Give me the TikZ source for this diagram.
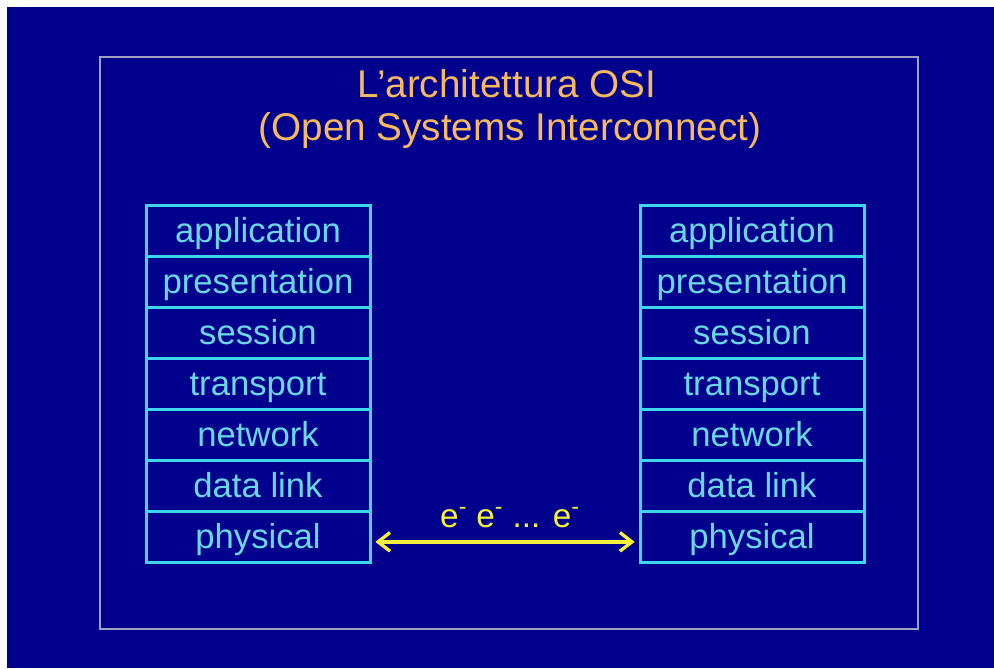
\documentclass[tikz,border=0pt]{standalone}
\usepackage{fontspec}
\setmainfont{Liberation Sans}
\usetikzlibrary{arrows.meta}

\definecolor{slidebg}{RGB}{0,0,140}
\definecolor{framecol}{RGB}{160,160,195}
\definecolor{laycol}{RGB}{60,215,235}
\definecolor{laytxt}{RGB}{105,215,230}
\definecolor{titlecol}{RGB}{245,185,95}
\definecolor{wirecol}{RGB}{245,240,60}

\begin{document}
\begin{tikzpicture}[x=0.75pt,y=-0.75pt,line width=2.25pt]
\tikzstyle{layer}=[draw=laycol,text=laytxt,font=\fontsize{26}{31}\selectfont,rectangle,minimum width=168pt,minimum height=38.25pt,inner sep=0pt,outer sep=0pt,text height=18.5pt,text depth=0pt];
\tikzstyle{head}=[text=titlecol,font=\fontsize{29}{35}\selectfont,anchor=base];
\tikzstyle{dir}=[{Straight Barb[length=9pt,width=14pt]}-{Straight Barb[length=9pt,width=14pt]},draw=wirecol,line width=2.5pt,shorten <=4pt,shorten >=4pt];

% slide background and frame
\useasboundingbox (0,0) rectangle (994,668);
\fill [white] (0,0) rectangle (994,668);
\fill [slidebg] (7,7) rectangle (994,668);
\draw [framecol,line width=1.8pt] (100,57) rectangle (918,629);

\node [head] (title) at (507,97) {L’architettura OSI};
\node [head] (subtitle) at (510,140) {(Open Systems Interconnect)};

% left stack
\node [layer] (l1) at (258,230.5) {application};
\node [layer] (l2) at (258,281.5) {presentation};
\node [layer] (l3) at (258,332.5) {session};
\node [layer] (l4) at (258,383.5) {transport};
\node [layer] (l5) at (258,434.5) {network};
\node [layer] (l6) at (258,485.5) {data link};
\node [layer] (l7) at (258,536.5) {physical};

% right stack
\node [layer] (r1) at (752,230.5) {application};
\node [layer] (r2) at (752,281.5) {presentation};
\node [layer] (r3) at (752,332.5) {session};
\node [layer] (r4) at (752,383.5) {transport};
\node [layer] (r5) at (752,434.5) {network};
\node [layer] (r6) at (752,485.5) {data link};
\node [layer] (r7) at (752,536.5) {physical};

\draw [dir] ([yshift=-4pt]l7.east) -- ([yshift=-4pt]r7.west);
\node [text=wirecol,font=\fontsize{25}{30}\selectfont,anchor=base] (wire) at (510,527) {e\textsuperscript{-} e\textsuperscript{-} ... e\textsuperscript{-}};
\end{tikzpicture}
\end{document}
